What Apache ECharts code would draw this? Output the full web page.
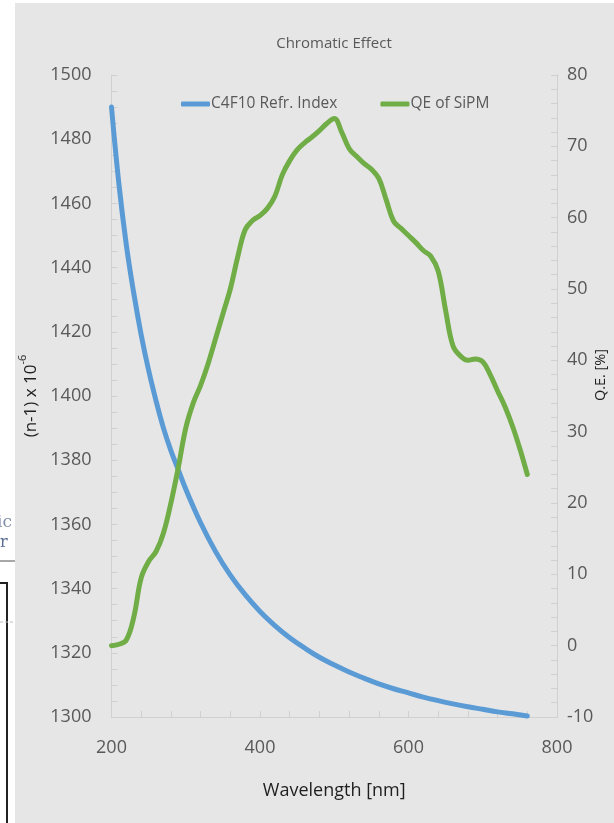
<!DOCTYPE html>
<html><head><meta charset="utf-8">
<script src="https://cdn.jsdelivr.net/npm/echarts@6/dist/echarts.min.js"></script>
<style>html,body{margin:0;padding:0;background:#fff}#c{width:614px;height:823px}</style>
</head><body><div id="c"></div>
<script>
const refrWavelength = [200,210,220,230,240,250,260,270,280,290,300,320,340,360,380,400,420,440,460,480,500,520,540,560,580,600,620,640,660,680,700,720,740,760];
const refrIndex = [1490,1466,1447,1432,1419,1408,1398.5,1390,1383,1377,1371,1360.5,1351.6,1344.2,1338.1,1332.9,1328.5,1324.7,1321.5,1318.6,1316.2,1314,1312.1,1310.3,1308.8,1307.5,1306.2,1305.1,1304.1,1303.2,1302.4,1301.6,1301,1300.3];
const qeWavelength = [200,210,220,230,240,250,260,270,280,290,300,310,320,330,340,350,360,370,380,390,400,410,420,430,440,450,460,470,480,490,500,510,520,530,540,550,560,570,580,590,600,610,620,630,640,650,660,670,680,690,700,710,720,730,740,750,760];
const qeValues = [0,0.2,0.8,4,9.5,11.8,13.2,15.8,20,25,30.5,34,36.5,39.5,43,46.5,50,54.5,58.3,59.6,60.3,61.3,63,66,68,69.5,70.5,71.3,72.2,73.2,73.9,72,69.7,68.6,67.6,66.8,65.5,62.5,59.5,58.5,57.5,56.5,55.4,54.6,52.5,47,42,40.6,40,40.2,39.8,38,35.7,33.5,30.8,27.6,24];
const xTicks = {min:200, max:800, interval:200};
const leftTicks = {min:1300, max:1500, interval:20};
const rightTicks = {min:-10, max:80, interval:10};
const seriesNames = ['C4F10 Refr. Index','QE of SiPM'];

const F = 'Open Sans';
const axisGray = '#d0d0d0';
const labelGray = '#595959';
const chart = echarts.init(document.getElementById('c'));
const axisCommon = {
  axisLine:{show:true, onZero:false, lineStyle:{color:axisGray, width:1}},
  axisTick:{show:true, inside:true, length:6, lineStyle:{color:axisGray}},
  minorTick:{show:true, length:6, lineStyle:{color:axisGray}},
  splitLine:{show:false},
  axisLabel:{color:labelGray, fontSize:18, fontFamily:F, formatter:v=>String(v)}
};
chart.setOption({
  backgroundColor:'#e6e6e6',
  animation:false,
  textStyle:{fontFamily:F},
  title:{text:'Chromatic Effect', left:334, textAlign:'center', top:36, padding:0,
    textStyle:{fontSize:15, fontWeight:'normal', color:labelGray, fontFamily:F}},
  legend:{left:181, top:96, padding:0, itemWidth:29, itemHeight:5, itemGap:43, icon:'roundRect',
    textStyle:{fontSize:15.5, color:labelGray, fontFamily:F, padding:[0,0,0,-4]},
    data:seriesNames},
  grid:{left:111.5, right:57, top:75, bottom:106, containLabel:false, outerBoundsMode:'none'},
  xAxis:Object.assign({}, axisCommon, {type:'value', min:xTicks.min, max:xTicks.max, interval:xTicks.interval,
    minorTick:Object.assign({}, axisCommon.minorTick, {splitNumber:5}),
    axisLabel:Object.assign({}, axisCommon.axisLabel, {margin:22}),
    name:'Wavelength [nm]', nameLocation:'middle', nameGap:65,
    nameTextStyle:{fontSize:18, color:'#1f1f1f', fontFamily:F}}),
  yAxis:[
    Object.assign({}, axisCommon, {type:'value', position:'left', min:leftTicks.min, max:leftTicks.max, interval:leftTicks.interval,
      minorTick:Object.assign({}, axisCommon.minorTick, {splitNumber:4}),
      axisLabel:Object.assign({}, axisCommon.axisLabel, {margin:20}),
      name:'{a|(n-1) x 10}{b|-6}', nameLocation:'middle', nameGap:55, nameRotate:90,
      nameTextStyle:{rich:{a:{fontSize:17, color:'#1f1f1f', fontFamily:F, lineHeight:22, verticalAlign:'bottom'},
                           b:{fontSize:11, color:'#1f1f1f', fontFamily:F, lineHeight:22, verticalAlign:'top'}}}}),
    Object.assign({}, axisCommon, {type:'value', position:'right', min:rightTicks.min, max:rightTicks.max, interval:rightTicks.interval,
      minorTick:Object.assign({}, axisCommon.minorTick, {splitNumber:5}),
      axisLabel:Object.assign({}, axisCommon.axisLabel, {margin:10})})
  ],
  graphic:[
    {type:'rect', shape:{x:0,y:0,width:15,height:823}, style:{fill:'#ffffff'}, silent:true},
    {type:'rect', shape:{x:0,y:0,width:614,height:3}, style:{fill:'#ffffff'}, silent:true},
    {type:'text', x:-3, y:523, style:{text:'ic', fontSize:17, fontFamily:'DejaVu Serif', fill:'#8390aa', verticalAlign:'middle'}},
    {type:'text', x:0, y:543, style:{text:'r', fontSize:16, fontFamily:'DejaVu Serif', fill:'#5d6e92', verticalAlign:'middle'}},
    {type:'line', shape:{x1:0,y1:561,x2:15,y2:561}, style:{stroke:'#a8a8a8', lineWidth:2}},
    {type:'polyline', shape:{points:[[0,583],[7,583],[7,823]]}, style:{stroke:'#222222', lineWidth:2, fill:null}},
    {type:'line', shape:{x1:0,y1:622,x2:15,y2:622}, style:{stroke:'#bbbbbb', lineWidth:1, lineDash:[3,2]}},
    {type:'text', x:601, y:375, rotation:Math.PI/2, style:{text:'Q.E. [%]', fontSize:14.5, fontFamily:F, fill:'#1f1f1f', align:'center', verticalAlign:'middle'}}
  ],
  series:[
    {name:seriesNames[0], type:'line', yAxisIndex:0, showSymbol:false, symbol:'none', smooth:0.4,
      color:'#5b9bd5', lineStyle:{width:5, color:'#5b9bd5', cap:'round'},
      data:refrWavelength.map((w,i)=>[w, refrIndex[i]])},
    {name:seriesNames[1], type:'line', yAxisIndex:1, showSymbol:false, symbol:'none', smooth:0.4,
      color:'#70ad47', lineStyle:{width:5, color:'#70ad47', cap:'round'},
      data:qeWavelength.map((w,i)=>[w, qeValues[i]])}
  ]
});
</script></body></html>
